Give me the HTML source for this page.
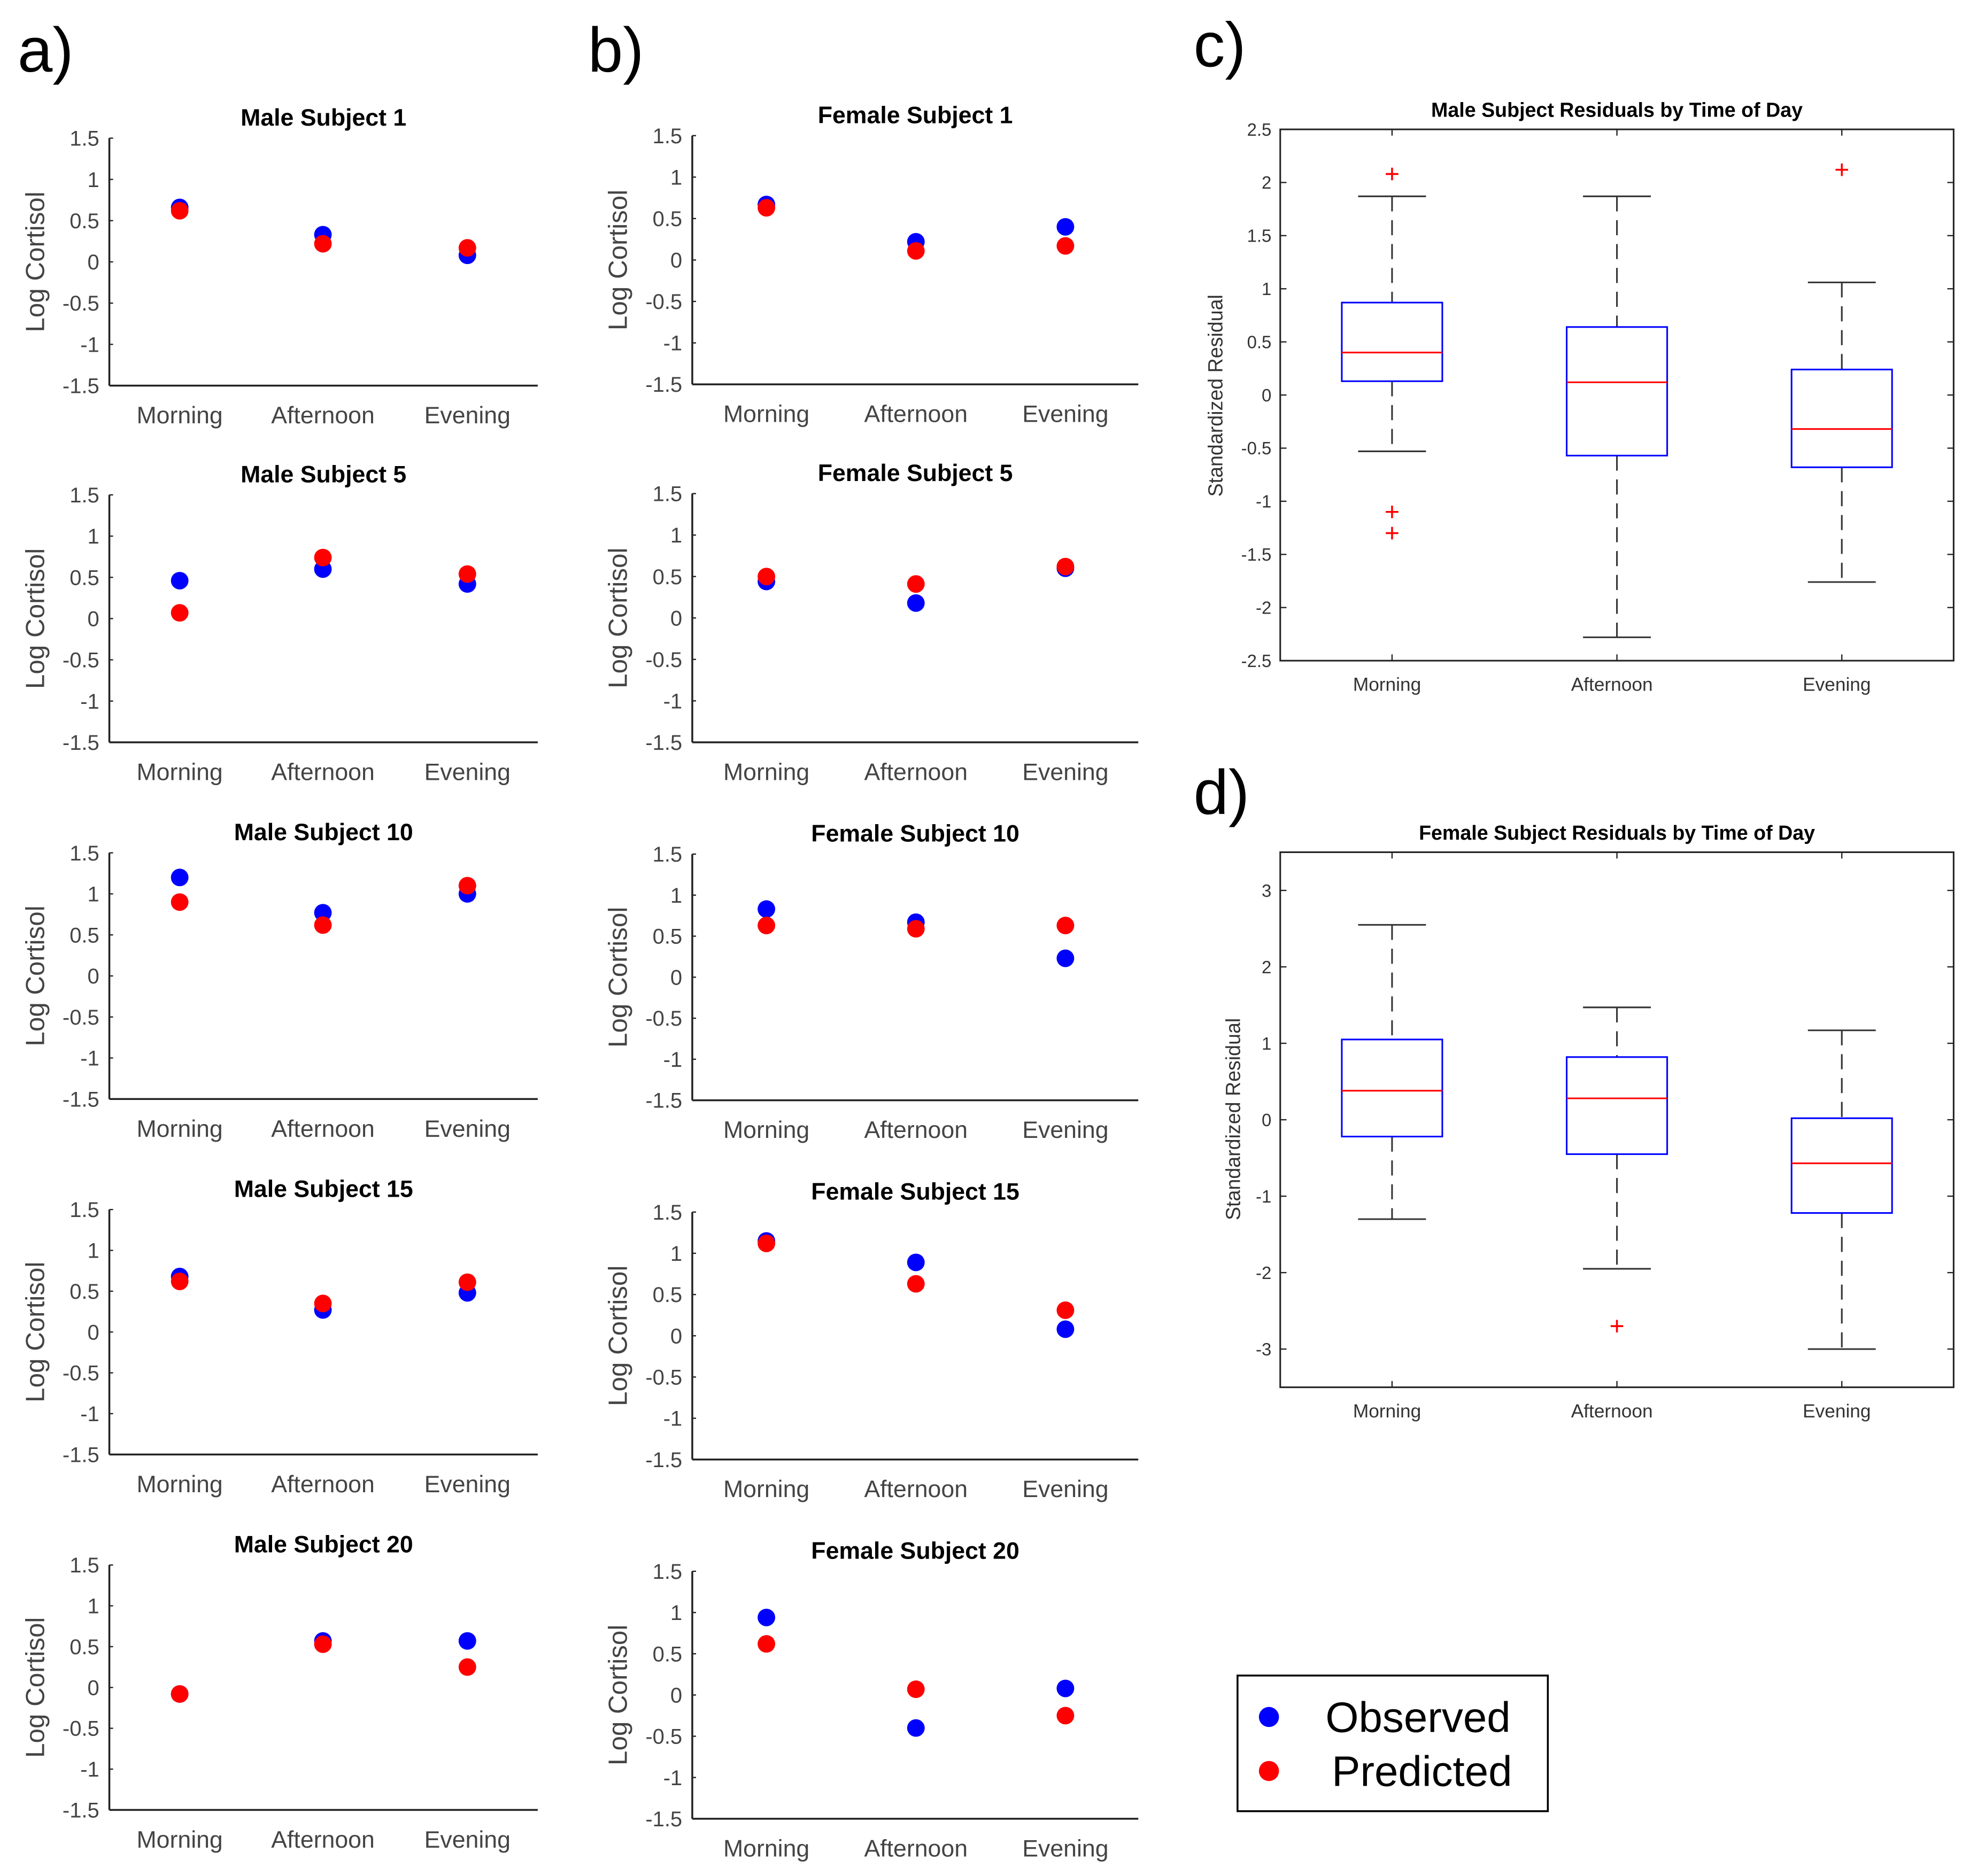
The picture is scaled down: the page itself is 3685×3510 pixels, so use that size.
<!DOCTYPE html>
<html><head><meta charset="utf-8"><style>
html,body{margin:0;padding:0;background:#fff;}
svg{display:block;font-family:"Liberation Sans",Arial,sans-serif;}
</style></head><body>
<svg id="fig" xmlns="http://www.w3.org/2000/svg" width="3685" height="3510" viewBox="0 0 1568 1493.6">
<rect x="0" y="0" width="1568" height="1493.6" fill="#fff"/>
<text x="14" y="57" font-size="50">a)</text>
<text x="468" y="57" font-size="50">b)</text>
<text x="950" y="53" font-size="50">c)</text>
<text x="950" y="648" font-size="50">d)</text>
<g>
<rect x="985" y="1334" width="247" height="108" fill="#fff" stroke="#000" stroke-width="1.5"/>
<circle cx="1010" cy="1367" r="8" fill="#0000ff"/>
<circle cx="1010" cy="1410" r="8" fill="#ff0000"/>
<text x="1055" y="1379" font-size="34">Observed</text>
<text x="1060" y="1422" font-size="34">Predicted</text>
</g>
</svg>
<script>
const NS="http://www.w3.org/2000/svg";
const svg=document.getElementById('fig');
const categories=["Morning","Afternoon","Evening"];
const titlesMale=["Male Subject 1","Male Subject 5","Male Subject 10","Male Subject 15","Male Subject 20"];
const titlesFemale=["Female Subject 1","Female Subject 5","Female Subject 10","Female Subject 15","Female Subject 20"];
const obsMale=[[0.66,0.33,0.08],[0.46,0.60,0.42],[1.2,0.77,1.0],[0.68,0.27,0.48],[-0.08,0.57,0.57]];
const predMale=[[0.62,0.22,0.17],[0.07,0.74,0.54],[0.9,0.62,1.1],[0.62,0.35,0.61],[-0.08,0.53,0.25]];
const obsFemale=[[0.67,0.22,0.40],[0.44,0.18,0.60],[0.83,0.67,0.23],[1.15,0.89,0.08],[0.94,-0.40,0.08]];
const predFemale=[[0.63,0.11,0.17],[0.50,0.41,0.62],[0.63,0.59,0.63],[1.12,0.63,0.31],[0.62,0.07,-0.25]];
const scatterTicks=["1.5","1","0.5","0","-0.5","-1","-1.5"];
const boxMaleQ1=[0.13,-0.57,-0.68], boxMaleMed=[0.40,0.12,-0.32], boxMaleQ3=[0.87,0.64,0.24];
const boxMaleLo=[-0.53,-2.28,-1.76], boxMaleHi=[1.87,1.87,1.06];
const boxMaleOutCat=[0,0,0,2], boxMaleOutVal=[2.08,-1.1,-1.3,2.12];
const boxMaleTicks=["2.5","2","1.5","1","0.5","0","-0.5","-1","-1.5","-2","-2.5"];
const boxFemQ1=[-0.22,-0.45,-1.22], boxFemMed=[0.38,0.28,-0.57], boxFemQ3=[1.05,0.82,0.02];
const boxFemLo=[-1.3,-1.95,-3.0], boxFemHi=[2.55,1.47,1.17];
const boxFemOutCat=[1], boxFemOutVal=[-2.7];
const boxFemTicks=["3","2","1","0","-1","-2","-3"];

function el(tag,attrs,parent){const e=document.createElementNS(NS,tag);for(const k in attrs)e.setAttribute(k,attrs[k]);(parent||svg).appendChild(e);return e;}
function txt(x,y,s,size,anchor,parent,extra){const t=el('text',Object.assign({x:x,y:y,'font-size':size,'text-anchor':anchor||'start'},extra||{}),parent);t.textContent=s;return t;}

function scatter(ax0,ax1,yTop,yBot,catX,title,obs,pred,name){
  const g=el('g',{});
  
  
  const yScale=v=>yTop+(1.5-v)/3*(yBot-yTop);
  el('line',{x1:ax0,y1:yTop,x2:ax0,y2:yBot,stroke:'#222','stroke-width':1.5},g);
  el('line',{x1:ax0,y1:yBot,x2:ax1,y2:yBot,stroke:'#222','stroke-width':1.5},g);
  scatterTicks.forEach(s=>{const v=parseFloat(s);const y=yScale(v);
    el('line',{x1:ax0,y1:y,x2:ax0+3,y2:y,stroke:'#222','stroke-width':1},g);
    const t=txt(ax0-8,y+6,s,17,'end',g,{fill:'#444'});
    
    });
  categories.forEach((c,i)=>{const t=txt(catX[i],yBot+30,c,19,'middle',g,{fill:'#444'});
    
    });
  const tt=txt((ax0+ax1)/2,yTop-10,title,19,'middle',g,{'font-weight':'bold'});
  
  
  const yl=txt(0,0,'Log Cortisol',21,'middle',g,{fill:'#444',transform:`translate(${ax0-52},${(yTop+yBot)/2}) rotate(-90)`});
  
  
  obs.forEach((v,i)=>{const c=el('circle',{cx:catX[i],cy:yScale(v),r:7,fill:'#0000ff'},g);
    
    });
  pred.forEach((v,i)=>{const c=el('circle',{cx:catX[i],cy:yScale(v),r:7,fill:'#ff0000'},g);
    
    });
}
const rowsA=[[110,307],[394,591],[679,875],[963,1158],[1246,1441]];
const rowsB=[[108,306],[393,591],[680,876],[965,1162],[1251,1448]];
for(let i=0;i<5;i++){
  scatter(87,428,rowsA[i][0],rowsA[i][1],[143,257,372],titlesMale[i],obsMale[i],predMale[i],'male-scatter-'+(i+1));
  scatter(551,906,rowsB[i][0],rowsB[i][1],[610,729,848],titlesFemale[i],obsFemale[i],predFemale[i],'female-scatter-'+(i+1));
}

function boxplot(x0,x1,yTop,yBot,ymax,ymin,ticks,title,q1,med,q3,lo,hi,oc,ov,name){
  const g=el('g',{});
  
  
  const catX=[1108,1287,1466];
  const yS=v=>yTop+(ymax-v)/(ymax-ymin)*(yBot-yTop);
  el('rect',{x:x0,y:yTop,width:x1-x0,height:yBot-yTop,fill:'none',stroke:'#222','stroke-width':1.3},g);
  ticks.forEach(s=>{const v=parseFloat(s),y=yS(v);
    el('line',{x1:x0,y1:y,x2:x0+5,y2:y,stroke:'#222'},g);
    el('line',{x1:x1,y1:y,x2:x1-5,y2:y,stroke:'#222'},g);
    const t=txt(x0-7,y+5,s,14,'end',g,{fill:'#333'});
    
    });
  categories.forEach((c,i)=>{
    el('line',{x1:catX[i],y1:yBot,x2:catX[i],y2:yBot-5,stroke:'#222'},g);
    el('line',{x1:catX[i],y1:yTop,x2:catX[i],y2:yTop+5,stroke:'#222'},g);
    const t=txt(catX[i]-4,yBot+24,c,15,'middle',g,{fill:'#333'});
    
    
    const cx=catX[i],w=40,cw=27;
    el('line',{x1:cx,y1:yS(hi[i]),x2:cx,y2:yS(q3[i]),stroke:'#333','stroke-dasharray':'12,7','stroke-width':1.3},g);
    el('line',{x1:cx,y1:yS(q1[i]),x2:cx,y2:yS(lo[i]),stroke:'#333','stroke-dasharray':'12,7','stroke-width':1.3},g);
    el('line',{x1:cx-cw,y1:yS(hi[i]),x2:cx+cw,y2:yS(hi[i]),stroke:'#333','stroke-width':1.3},g);
    el('line',{x1:cx-cw,y1:yS(lo[i]),x2:cx+cw,y2:yS(lo[i]),stroke:'#333','stroke-width':1.3},g);
    const b=el('rect',{x:cx-w,y:yS(q3[i]),width:2*w,height:yS(q1[i])-yS(q3[i]),fill:'none',stroke:'#0000ff','stroke-width':1.3},g);
    
    
    el('line',{x1:cx-w,y1:yS(med[i]),x2:cx+w,y2:yS(med[i]),stroke:'#ff0000','stroke-width':1.3},g);
  });
  ov.forEach((v,k)=>{const cx=catX[oc[k]],y=yS(v);
    const p=el('path',{d:`M${cx-5},${y}H${cx+5}M${cx},${y-5}V${y+5}`,stroke:'#ff0000','stroke-width':1.5,fill:'none'},g);
    
    });
  const t=txt((x0+x1)/2,yTop-10,title,16,'middle',g,{'font-weight':'bold'});
  
  
}
boxplot(1019,1555,103,526,2.5,-2.5,boxMaleTicks,'Male Subject Residuals by Time of Day',boxMaleQ1,boxMaleMed,boxMaleQ3,boxMaleLo,boxMaleHi,boxMaleOutCat,boxMaleOutVal,'male-residual-boxplot');
boxplot(1019,1555,678.5,1104.5,3.5,-3.5,boxFemTicks,'Female Subject Residuals by Time of Day',boxFemQ1,boxFemMed,boxFemQ3,boxFemLo,boxFemHi,boxFemOutCat,boxFemOutVal,'female-residual-boxplot');
const yl1=txt(0,0,'Standardized Residual',16,'middle',svg,{fill:'#333',transform:'translate(973,315) rotate(-90)'});


const yl2=txt(0,0,'Standardized Residual',16,'middle',svg,{fill:'#333',transform:'translate(987,891) rotate(-90)'});


</script>
</body></html>
